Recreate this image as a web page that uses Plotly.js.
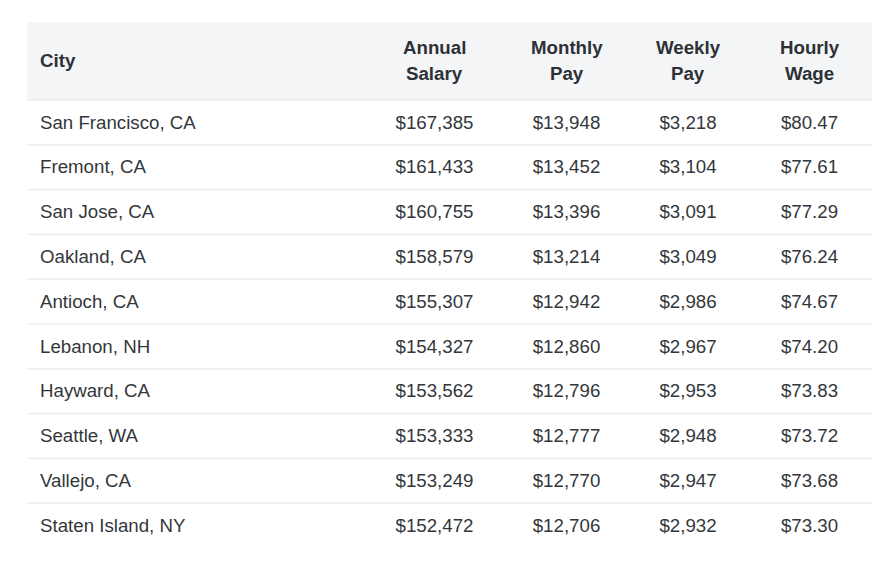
<!DOCTYPE html>
<html><head><meta charset="utf-8">
<script src="https://cdn.plot.ly/plotly-3.0.1.min.js"></script>
<style>html,body{margin:0;padding:0;background:#fff;}#chart{width:886px;height:568px;}</style>
</head><body><div id="chart"></div>
<script>
const headers = ["City", "Annual<br>Salary", "Monthly<br>Pay", "Weekly<br>Pay", "Hourly<br>Wage"];
const cities = ["San Francisco, CA","Fremont, CA","San Jose, CA","Oakland, CA","Antioch, CA","Lebanon, NH","Hayward, CA","Seattle, WA","Vallejo, CA","Staten Island, NY"];
const annualSalary = ["$167,385","$161,433","$160,755","$158,579","$155,307","$154,327","$153,562","$153,333","$153,249","$152,472"];
const monthlyPay = ["$13,948","$13,452","$13,396","$13,214","$12,942","$12,860","$12,796","$12,777","$12,770","$12,706"];
const weeklyPay = ["$3,218","$3,104","$3,091","$3,049","$2,986","$2,967","$2,953","$2,948","$2,947","$2,932"];
const hourlyWage = ["$80.47","$77.61","$77.29","$76.24","$74.67","$74.20","$73.83","$73.72","$73.68","$73.30"];

const W = 886, H = 568;
const tLeft = 27, tRight = 872, tTop = 22;
const headerH = 78, rowH = 44.8;
const textShiftY = 6.5;   // Plotly tables top-align text; shift so it sits mid-row
const textLeftX = 32;     // so the left column text starts 13px inside the table
const colW = [333, 139, 125, 118, 125];
const tBottom = tTop + headerH + rowH * cities.length;
const FONT = 'Liberation Sans, Arial, Helvetica, sans-serif';
const FS = 18.7;

const px2x = p => p / W;
const px2y = p => 1 - p / H;

const shapes = [{
  type: 'rect', xref: 'paper', yref: 'paper', layer: 'below',
  x0: px2x(tLeft), x1: px2x(tRight), y0: px2y(tTop + headerH), y1: px2y(tTop),
  fillcolor: '#f4f5f7', line: {width: 0}
}];
for (let i = 0; i < cities.length; i++) {
  const yPix = tTop + headerH + rowH * i;
  shapes.push({type:'line', xref:'paper', yref:'paper',
    x0: px2x(tLeft), x1: px2x(tRight), y0: px2y(yPix), y1: px2y(yPix),
    line: {color: i === 0 ? '#e3e5e8' : '#e8e8e8', width: 1}});
}

// header labels, one line each, centred in their columns
const annotations = [];
let acc = textLeftX;
const lineGap = 26, headerMid = tTop + headerH / 2 - 1;
headers.forEach((h, c) => {
  const lines = h.split('<br>');
  const isFirst = c === 0;
  const xPix = isFirst ? 38 : acc + colW[c] / 2;
  lines.forEach((ln, k) => {
    const yPix = (isFirst ? headerMid + 0.5 : headerMid) + (k - (lines.length - 1) / 2) * lineGap;
    annotations.push({
      xref: 'paper', yref: 'paper', x: px2x(xPix), y: px2y(yPix),
      xanchor: isFirst ? 'left' : 'center', yanchor: 'middle',
      text: ln, showarrow: false,
      font: {family: FONT, size: FS, color: '#2d3136', weight: 'bold'}
    });
  });
  acc += colW[c];
});

const trace = {
  type: 'table',
  domain: {x: [px2x(textLeftX), px2x(tRight)], y: [px2y(tBottom + textShiftY), px2y(tTop + textShiftY)]},
  columnwidth: colW,
  header: {
    values: headers.map(() => ''),
    height: headerH,
    fill: {color: 'rgba(0,0,0,0)'},
    line: {color: 'rgba(0,0,0,0)', width: 0}
  },
  cells: {
    values: [cities, annualSalary, monthlyPay, weeklyPay, hourlyWage],
    align: ['left','center','center','center','center'],
    height: rowH,
    fill: {color: 'rgba(0,0,0,0)'},
    line: {color: 'rgba(0,0,0,0)', width: 0},
    font: {family: FONT, size: FS, color: '#33373b'}
  }
};

Plotly.newPlot('chart', [trace], {
  width: W, height: H,
  margin: {l: 0, r: 0, t: 0, b: 0},
  paper_bgcolor: '#ffffff',
  shapes: shapes,
  annotations: annotations
}, {displayModeBar: false, staticPlot: true});
</script></body></html>
